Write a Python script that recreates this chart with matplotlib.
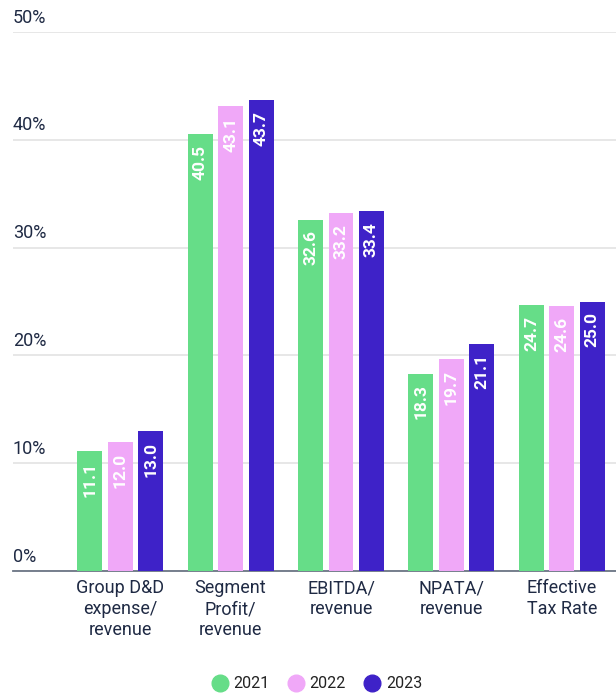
import numpy as np
import matplotlib.pyplot as plt

plt.rcParams['font.family'] = ['Roboto', 'DejaVu Sans']

categories = ['Group D&D\nexpense/\nrevenue', 'Segment\nProfit/\nrevenue',
              'EBITDA/\nrevenue', 'NPATA/\nrevenue', 'Effective\nTax Rate']
years = ['2021', '2022', '2023']
v2021 = [11.1, 40.5, 32.6, 18.3, 24.7]
v2022 = [12.0, 43.1, 33.2, 19.7, 24.6]
v2023 = [13.0, 43.7, 33.4, 21.1, 25.0]
colors = ['#66DD88', '#F0A8F8', '#3E22C8']
yticks = [0, 10, 20, 30, 40, 50]

text_col = '#1F2A44'

fig = plt.figure(figsize=(6.16, 6.93), dpi=100)
ax = fig.add_axes([13/616, 1 - 571/693, 1 - 13/616, (571 - 32)/693])

x = np.arange(len(categories))
w = 0.226
step = 0.276
series = [v2021, v2022, v2023]
for i, (vals, c, yr) in enumerate(zip(series, colors, years)):
    pos = x + (i - 1) * step
    ax.bar(pos, vals, width=w, color=c, label=yr, zorder=3)
    for p, v in zip(pos, vals):
        ax.text(p, v - 1.0, f'{v:.1f}', rotation=90, ha='center', va='top',
                color='white', fontsize=12.5, fontweight='bold', zorder=4)

ax.set_xlim(-0.97, 4.49)
ax.set_ylim(0, 50)
ax.set_yticks(yticks)
ax.yaxis.grid(True, color='#E3E3E3', linewidth=1.2, zorder=0)
ax.tick_params(axis='y', length=0, labelleft=False)
for t in yticks:
    ax.text(0.0, t + 0.5, f'{t}%', transform=ax.get_yaxis_transform(),
            ha='left', va='bottom', fontsize=13, color=text_col)

ax.set_xticks(x)
ax.set_xticklabels(categories, fontsize=13, color=text_col, linespacing=1.2)
ax.tick_params(axis='x', length=0, pad=6)

for s in ['top', 'right', 'left']:
    ax.spines[s].set_visible(False)
ax.spines['bottom'].set_color('#6B7585')
ax.spines['bottom'].set_linewidth(1.3)

handles = [plt.Line2D([], [], marker='o', linestyle='', markersize=12,
                      markerfacecolor=c, markeredgecolor=c) for c in colors]
fig.legend(handles, years, loc='center', bbox_to_anchor=(315/616, 1 - 684/693),
           ncol=3, frameon=False, fontsize=11.5, handletextpad=0.1,
           columnspacing=0.9, handlelength=1.5, labelcolor='#222222')

fig.savefig('out.png', dpi=100)
